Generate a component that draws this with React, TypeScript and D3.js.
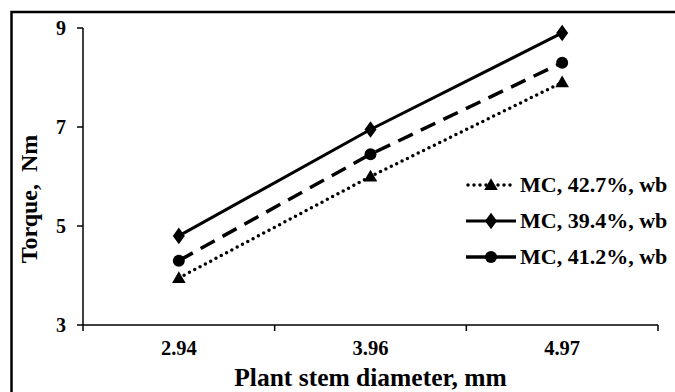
import * as d3 from 'd3';
import React, { useEffect, useRef } from 'react';

const categories = ['2.94', '3.96', '4.97'];
const yTicks = [3, 5, 7, 9];
const mc427 = [3.95, 6.0, 7.9];
const mc394 = [4.8, 6.95, 8.9];
const mc412 = [4.3, 6.45, 8.3];

const seriesNames = ['MC, 42.7%, wb', 'MC, 39.4%, wb', 'MC, 41.2%, wb'];

const FONT = 'Liberation Serif, Times New Roman, serif';

export default function App() {
  const svgRef = useRef<SVGSVGElement>(null);
  const width = 675;
  const height = 392;

  useEffect(() => {
    const svg = d3.select(svgRef.current);
    svg.selectAll('*').remove();

    const left = 83;
    const right = 658;
    const top = 28;
    const bottom = 325;

    // outer frame (only top and left are visible in the crop)
    svg
      .append('rect')
      .attr('x', 11.5)
      .attr('y', 12)
      .attr('width', 680)
      .attr('height', 400)
      .attr('fill', 'none')
      .attr('stroke', '#000')
      .attr('stroke-width', 2.5);

    const x = d3.scaleBand().domain(categories).range([left, right]);
    const y = d3.scaleLinear().domain([3, 9]).range([bottom, top]);
    const cx = (c: string) => (x(c) as number) + x.bandwidth() / 2;

    // y axis
    const gy = svg.append('g');
    gy.append('line')
      .attr('x1', left).attr('x2', left)
      .attr('y1', y(9)).attr('y2', y(3))
      .attr('stroke', '#000').attr('stroke-width', 1.5);
    gy.selectAll('.yt')
      .data(yTicks)
      .enter()
      .append('line')
      .attr('x1', left - 6).attr('x2', left)
      .attr('y1', (d) => y(d)).attr('y2', (d) => y(d))
      .attr('stroke', '#000').attr('stroke-width', 1.5);
    gy.selectAll('.yl')
      .data(yTicks)
      .enter()
      .append('text')
      .attr('x', 66)
      .attr('y', (d) => y(d) + 7)
      .attr('text-anchor', 'end')
      .attr('font-family', FONT)
      .attr('font-weight', 'bold')
      .attr('font-size', 20)
      .text((d) => d);

    // x axis
    const gx = svg.append('g');
    gx.append('line')
      .attr('x1', left).attr('x2', right)
      .attr('y1', bottom).attr('y2', bottom)
      .attr('stroke', '#000').attr('stroke-width', 1.5);
    const bounds = [...categories.map((c) => x(c) as number), right];
    gx.selectAll('.xt')
      .data(bounds)
      .enter()
      .append('line')
      .attr('x1', (d) => d).attr('x2', (d) => d)
      .attr('y1', bottom).attr('y2', bottom + 6)
      .attr('stroke', '#000').attr('stroke-width', 1.5);
    gx.selectAll('.xl')
      .data(categories)
      .enter()
      .append('text')
      .attr('x', (d) => cx(d))
      .attr('y', 355)
      .attr('text-anchor', 'middle')
      .attr('font-family', FONT)
      .attr('font-weight', 'bold')
      .attr('font-size', 20.5)
      .text((d) => d);

    // axis titles
    svg.append('text')
      .attr('x', (left + right) / 2)
      .attr('y', 386)
      .attr('text-anchor', 'middle')
      .attr('font-family', FONT)
      .attr('font-weight', 'bold')
      .attr('font-size', 25.5)
      .text('Plant stem diameter, mm');
    svg.append('text')
      .attr('transform', `translate(37,199) rotate(-90)`)
      .attr('text-anchor', 'middle')
      .attr('font-family', FONT)
      .attr('font-weight', 'bold')
      .attr('font-size', 24)
      .style('white-space', 'pre')
      .text('Torque,  Nm');

    const styles = [
      { values: mc427, dash: '0,6', cap: 'round', width: 3.5, marker: 'triangle' },
      { values: mc394, dash: null, cap: 'butt', width: 3, marker: 'diamond' },
      { values: mc412, dash: '16,9', cap: 'butt', width: 3.5, marker: 'circle' },
    ];

    const line = d3
      .line<number>()
      .x((_, i) => cx(categories[i]))
      .y((d) => y(d));

    const drawMarker = (g: any, kind: string, px: number, py: number) => {
      if (kind === 'circle') {
        g.append('circle').attr('cx', px).attr('cy', py).attr('r', 6).attr('fill', '#000');
      } else if (kind === 'diamond') {
        g.append('path')
          .attr('d', d3.symbol(d3.symbolDiamond, 80)())
          .attr('transform', `translate(${px},${py}) scale(1.25,1)`)
          .attr('fill', '#000');
      } else {
        g.append('path')
          .attr('d', d3.symbol(d3.symbolTriangle, 80)())
          .attr('transform', `translate(${px},${py + 1})`)
          .attr('fill', '#000');
      }
    };

    styles.forEach((s) => {
      svg.append('path')
        .datum(s.values)
        .attr('d', line)
        .attr('fill', 'none')
        .attr('stroke', '#000')
        .attr('stroke-width', s.width)
        .attr('stroke-linecap', s.cap)
        .attr('stroke-dasharray', s.dash);
      const g = svg.append('g');
      s.values.forEach((v, i) => drawMarker(g, s.marker, cx(categories[i]), y(v)));
    });

    // legend
    const lg = svg.append('g');
    styles.forEach((s, i) => {
      const ly = 185 + i * 36;
      lg.append('line')
        .attr('x1', s.dash === '0,6' ? 468 : 466)
        .attr('x2', 516)
        .attr('y1', ly).attr('y2', ly)
        .attr('stroke', '#000')
        .attr('stroke-width', s.width)
        .attr('stroke-linecap', s.cap)
        .attr('stroke-dasharray', s.dash === '16,9' ? null : s.dash);
      drawMarker(lg, s.marker, 491, ly);
      lg.append('text')
        .attr('x', 520)
        .attr('y', ly + 7)
        .attr('font-family', FONT)
        .attr('font-weight', 'bold')
        .attr('font-size', 22)
        .text(seriesNames[i]);
    });
  }, []);

  return (
    <svg
      ref={svgRef}
      width={width}
      height={height}
      style={{ position: 'absolute', left: 0, top: 0, background: '#fff' }}
    />
  );
}
